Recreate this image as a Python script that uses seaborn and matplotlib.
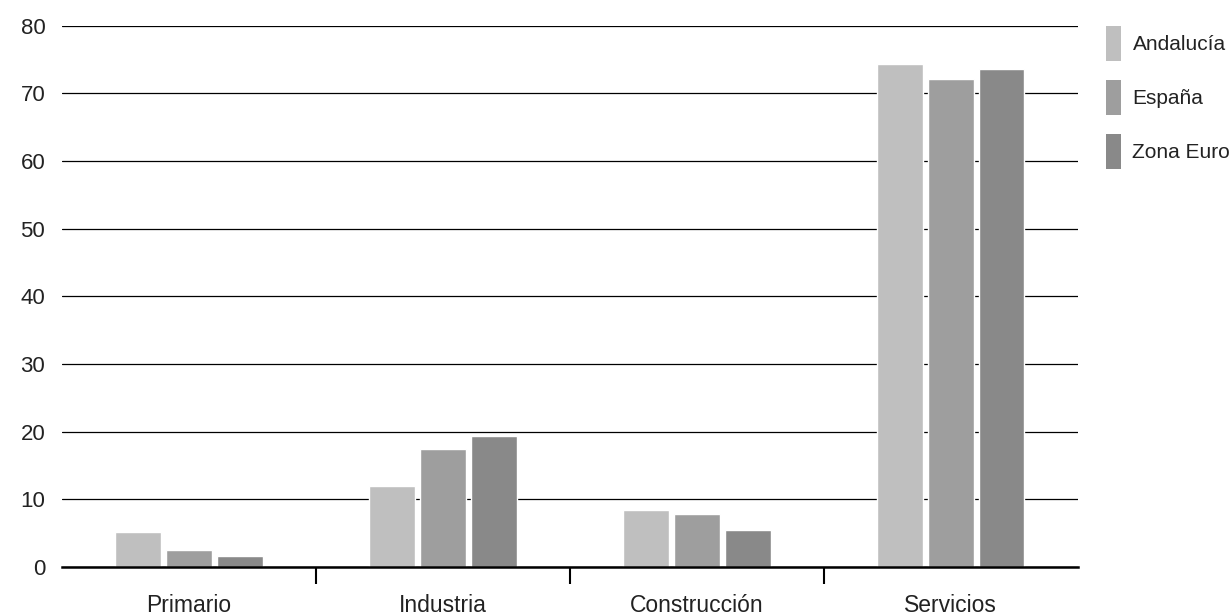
import pandas as pd
import seaborn as sns
import matplotlib.pyplot as plt
from matplotlib.patches import Patch

# datos: estructura del VAB por sectores (%)
sectores = ["Primario", "Industria", "Construcción", "Servicios"]
regiones = ["Andalucía", "España", "Zona Euro"]
andalucia = [5.2, 12.0, 8.5, 74.3]
espana = [2.5, 17.5, 7.9, 72.1]
zona_euro = [1.6, 19.3, 5.5, 73.6]
yticks = [0, 10, 20, 30, 40, 50, 60, 70, 80]

colores = ["#bfbfbf", "#9e9e9e", "#898989"]

df = pd.DataFrame({
    "Sector": sectores * 3,
    "Region": [regiones[0]] * 4 + [regiones[1]] * 4 + [regiones[2]] * 4,
    "Valor": andalucia + espana + zona_euro,
})

sns.set_style("white")
plt.rcParams['font.family'] = ['Liberation Sans', 'DejaVu Sans']

fig = plt.figure(figsize=(12.29, 6.15), dpi=100)
ax = fig.add_axes([0.0504, 0.078, 0.8266, 0.880])

sns.barplot(data=df, x="Sector", y="Valor", hue="Region", order=sectores,
            hue_order=regiones, palette=colores, width=0.6, gap=0.1,
            saturation=1, legend=False, ax=ax)

ax.set_xlim(-0.5, 3.5)
ax.set_ylim(0, 80)
ax.set_yticks(yticks)
ax.set_xlabel("")
ax.set_ylabel("")

# grid lines
ax.grid(axis='y', color='black', linewidth=0.9)
ax.set_axisbelow(True)
for s in ["top", "right", "left"]:
    ax.spines[s].set_visible(False)
ax.spines["bottom"].set_color("black")
ax.spines["bottom"].set_linewidth(1.8)
ax.spines["bottom"].set_zorder(5)

ax.tick_params(axis='y', length=0, pad=12, labelsize=16, labelcolor='#222222')
ax.tick_params(axis='x', which='major', length=0, pad=19.5, labelsize=16.5, labelcolor='#222222')
ax.set_xticks([0.5, 1.5, 2.5], minor=True)
ax.tick_params(axis='x', which='minor', bottom=True, length=12, width=1.5,
               color='black', direction='out')

# legend: tall narrow swatches
handles = [Patch(facecolor=c, edgecolor='none') for c in colores]
ax.legend(handles, regiones, loc='upper left', bbox_to_anchor=(1106 / 1229, 1 - 26 / 615),
          bbox_transform=fig.transFigure, frameon=False, borderpad=0, borderaxespad=0,
          handlelength=0.72, handleheight=2.21, handletextpad=0.55, labelspacing=0.91,
          fontsize=15, labelcolor='#222222')

plt.savefig("out.png", dpi=100)
